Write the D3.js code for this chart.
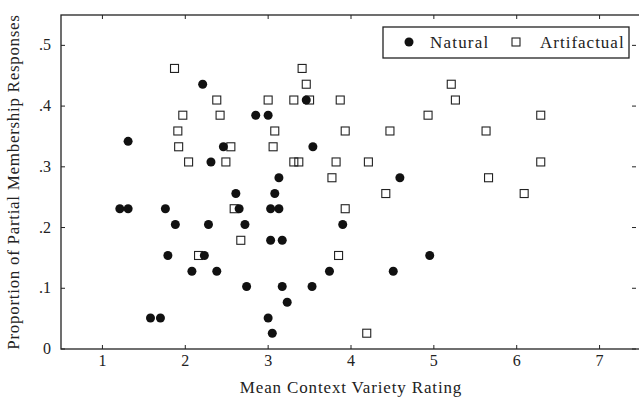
<!DOCTYPE html>
<html>
<head>
<meta charset="utf-8">
<script src="https://d3js.org/d3.v7.min.js"></script>
<style>
body{margin:0;background:#fff;}
text{font-family:"Liberation Serif",serif;fill:#222;}
</style>
</head>
<body>
<svg id="chart" width="639" height="399"></svg>
<script>
// values
const naturalX=[1.21,1.31,1.31,1.58,1.70,1.76,1.79,1.88,2.08,2.21,2.23,2.28,2.31,2.38,2.46,2.61,2.65,2.72,2.74,2.85,3.00,3.00,3.03,3.03,3.05,3.08,3.13,3.13,3.17,3.17,3.23,3.46,3.54,3.53,3.74,3.90,4.51,4.59,4.95];
const naturalY=[.231,.231,.342,.051,.051,.231,.154,.205,.128,.436,.154,.205,.308,.128,.333,.256,.231,.205,.103,.385,.385,.051,.231,.179,.026,.256,.282,.231,.179,.103,.077,.410,.333,.103,.128,.205,.128,.282,.154];
const artifactX=[1.87,1.91,1.92,1.97,2.04,2.16,2.38,2.42,2.49,2.55,2.59,2.67,3.00,3.06,3.08,3.31,3.31,3.37,3.41,3.46,3.50,3.77,3.82,3.85,3.87,3.93,3.93,4.19,4.21,4.42,4.47,4.93,5.21,5.26,5.63,5.66,6.09,6.29,6.29];
const artifactY=[.462,.359,.333,.385,.308,.154,.410,.385,.308,.333,.231,.179,.410,.333,.359,.410,.308,.308,.462,.436,.410,.282,.308,.154,.410,.359,.231,.026,.308,.256,.359,.385,.436,.410,.359,.282,.256,.385,.308];
const xTicks=[1,2,3,4,5,6,7];
const yTicks=[0,.1,.2,.3,.4,.5];
const yTickLabels=["0",".1",".2",".3",".4",".5"];

const svg=d3.select('#chart');
const pLeft=61,pTop=15,pRight=641,pBottom=349;

const x=d3.scaleLinear().domain([0.5,7.5]).range([pLeft,pRight]);
const y=d3.scaleLinear().domain([0,0.55]).range([pBottom,pTop]);

// frame
svg.append('rect')
	.attr('x',pLeft).attr('y',pTop)
	.attr('width',pRight-pLeft).attr('height',pBottom-pTop)
	.attr('fill','none').attr('stroke','#222').attr('stroke-width',1.3);

// ticks, inward on all four sides
const tl=4;
svg.selectAll('.xtb').data(xTicks).enter().append('line')
	.attr('x1',d=>x(d)).attr('x2',d=>x(d))
	.attr('y1',pBottom).attr('y2',pBottom-tl)
	.attr('stroke','#222').attr('stroke-width',1);
svg.selectAll('.xtt').data(xTicks).enter().append('line')
	.attr('x1',d=>x(d)).attr('x2',d=>x(d))
	.attr('y1',pTop).attr('y2',pTop+tl)
	.attr('stroke','#222').attr('stroke-width',1);
svg.selectAll('.ytl').data(yTicks).enter().append('line')
	.attr('x1',pLeft).attr('x2',pLeft+tl)
	.attr('y1',d=>y(d)).attr('y2',d=>y(d))
	.attr('stroke','#222').attr('stroke-width',1);
svg.selectAll('.ytr').data(yTicks).enter().append('line')
	.attr('x1',pRight-5-tl).attr('x2',pRight-5)
	.attr('y1',d=>y(d)).attr('y2',d=>y(d))
	.attr('stroke','#222').attr('stroke-width',1);

// tick labels
svg.selectAll('.xl').data(xTicks).enter().append('text')
	.attr('x',d=>x(d)).attr('y',366)
	.attr('text-anchor','middle').attr('font-size',16)
	.text(d=>d);
svg.selectAll('.yl').data(yTicks).enter().append('text')
	.attr('x',51).attr('y',d=>y(d)+5)
	.attr('text-anchor','end').attr('font-size',16)
	.text((d,i)=>yTickLabels[i]);

// axis titles
svg.append('text')
	.attr('x',(pLeft+pRight)/2).attr('y',393)
	.attr('text-anchor','middle').attr('font-size',17)
	.attr('letter-spacing',0.85)
	.text('Mean Context Variety Rating');
svg.append('text')
	.attr('transform','translate(19,'+((pTop+pBottom)/2)+') rotate(-90)')
	.attr('text-anchor','middle').attr('font-size',17)
	.attr('letter-spacing',0.7)
	.text('Proportion of Partial Membership Responses');

// artifactual squares
const s=8;
svg.selectAll('.sq').data(artifactX).enter().append('rect')
	.attr('x',(d)=>x(d)-s/2)
	.attr('y',(d,i)=>y(artifactY[i])-s/2)
	.attr('width',s).attr('height',s)
	.attr('fill','none').attr('stroke','#222').attr('stroke-width',1.1);

// natural circles
svg.selectAll('.dot').data(naturalX).enter().append('circle')
	.attr('cx',d=>x(d))
	.attr('cy',(d,i)=>y(naturalY[i]))
	.attr('r',4.5)
	.attr('fill','#111');

// legend
const lg=svg.append('g');
lg.append('rect')
	.attr('x',383).attr('y',27).attr('width',246).attr('height',31)
	.attr('fill','#fff').attr('stroke','#222').attr('stroke-width',1.3);
lg.append('circle').attr('cx',409).attr('cy',42).attr('r',4.5).attr('fill','#111');
lg.append('text').attr('x',430).attr('y',48).attr('font-size',17)
	.attr('letter-spacing',1.2).text('Natural');
lg.append('rect').attr('x',512).attr('y',38).attr('width',s).attr('height',s)
	.attr('fill','none').attr('stroke','#222').attr('stroke-width',1.1);
lg.append('text').attr('x',540).attr('y',48).attr('font-size',17)
	.attr('letter-spacing',1.0).text('Artifactual');
</script>
</body>
</html>
